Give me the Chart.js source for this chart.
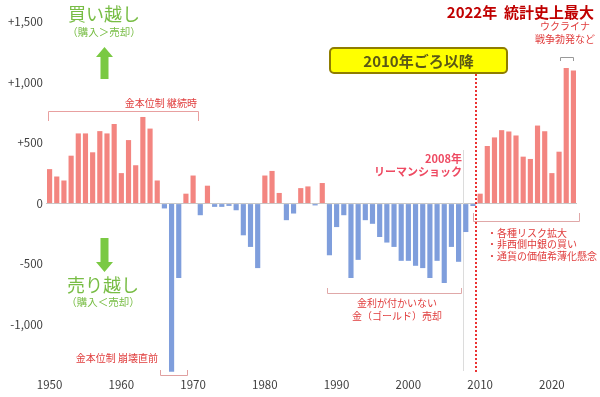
<!DOCTYPE html>
<html>
<head>
<meta charset="utf-8">
<script src="https://cdn.jsdelivr.net/npm/chart.js@4"></script>
<style>
  html, body { margin: 0; padding: 0; background: #fff; }
  #wrap { width: 600px; height: 397px; }
</style>
</head>
<body>
<div id="wrap"><canvas id="goldChart" width="600" height="397"></canvas></div>
<script>
// Data (central bank net gold purchases, tonnes)
const years = [
  1950, 1951, 1952, 1953, 1954, 1955, 1956, 1957, 1958, 1959,
  1960, 1961, 1962, 1963, 1964, 1965, 1966, 1967, 1968, 1969,
  1970, 1971, 1972, 1973, 1974, 1975, 1976, 1977, 1978, 1979,
  1980, 1981, 1982, 1983, 1984, 1985, 1986, 1987, 1988, 1989,
  1990, 1991, 1992, 1993, 1994, 1995, 1996, 1997, 1998, 1999,
  2000, 2001, 2002, 2003, 2004, 2005, 2006, 2007, 2008, 2009,
  2010, 2011, 2012, 2013, 2014, 2015, 2016, 2017, 2018, 2019,
  2020, 2021, 2022, 2023
];
const netPurchases = [
  285, 224, 191, 396, 580, 580, 424, 599, 580, 658,
  252, 525, 317, 716, 620, 191, -40, -1390, -615, 82,
  232, -96, 148, -27, -27, -19, -55, -262, -358, -533,
  232, 270, 88, -137, -82, 128, 142, -15, 170, -427,
  -194, -96, -615, -465, -137, -167, -276, -322, -358, -473,
  -473, -514, -533, -615, -473, -656, -358, -481, -235, -20,
  82, 476, 547, 607, 596, 563, 388, 369, 645, 598,
  252, 429, 1120, 1100
];
const xLabelYears = [1950, 1960, 1970, 1980, 1990, 2000, 2010, 2020];
const yTicks = [-1000, -500, 0, 500, 1000, 1500];
const yMin = -1400;
const yMax = 1600;

const POS = "#f38580";
const NEG = "#7f9edc";
const JP = '"Noto Sans CJK JP", "Noto Sans", sans-serif';
const RED = "#e03c3c";
const GREEN = "#78bd45";

// small drawing helpers
function txt(ctx, s, x, y, font, color, align) {
  ctx.font = font;
  ctx.fillStyle = color;
  ctx.textAlign = align || "center";
  ctx.textBaseline = "middle";
  ctx.fillText(s, x, y);
}

function bracket(ctx, x1, x2, yLine, yTip, color) {
  ctx.beginPath();
  ctx.moveTo(x1, yTip);
  ctx.lineTo(x1, yLine);
  ctx.lineTo(x2, yLine);
  ctx.lineTo(x2, yTip);
  ctx.strokeStyle = color;
  ctx.lineWidth = 1;
  ctx.stroke();
}

function arrow(ctx, cx, yTail, yTip, color) {
  const dir = yTip < yTail ? 1 : -1;
  const head = 10;
  const yBase = yTip + dir * head;
  ctx.beginPath();
  ctx.moveTo(cx, yTip);
  ctx.lineTo(cx + 8.5, yBase);
  ctx.lineTo(cx + 4, yBase);
  ctx.lineTo(cx + 4, yTail);
  ctx.lineTo(cx - 4, yTail);
  ctx.lineTo(cx - 4, yBase);
  ctx.lineTo(cx - 8.5, yBase);
  ctx.closePath();
  ctx.fillStyle = color;
  ctx.fill();
}

// Annotations
const notes = {
  id: "notes",
  beforeDatasetsDraw(chart) {
    const ctx = chart.ctx;
    ctx.save();
    ctx.beginPath();
    ctx.moveTo(463.5, 150);
    ctx.lineTo(463.5, 371);
    ctx.strokeStyle = "#dcdcdc";
    ctx.lineWidth = 1;
    ctx.stroke();
    ctx.restore();
  },
  afterDatasetsDraw(chart) {
    const ctx = chart.ctx;
    const area = chart.chartArea;
    ctx.save();

    // red dotted line around 2010
    ctx.beginPath();
    ctx.setLineDash([2, 2]);
    ctx.moveTo(476, 74);
    ctx.lineTo(476, area.bottom);
    ctx.strokeStyle = "#e60000";
    ctx.lineWidth = 1.6;
    ctx.stroke();
    ctx.setLineDash([]);

    // buy / sell labels
    txt(ctx, "買い越し", 104, 14.5, "18px " + JP, GREEN);
    txt(ctx, "（購入＞売却）", 104, 32, "10.5px " + JP, GREEN);
    arrow(ctx, 104.5, 79, 47, "#7ac943");
    arrow(ctx, 104.5, 238, 272, "#7ac943");
    txt(ctx, "売り越し", 103, 285, "18px " + JP, GREEN);
    txt(ctx, "（購入＜売却）", 103, 302.5, "10.5px " + JP, GREEN);

    // gold standard notes
    txt(ctx, "金本位制 継続時", 197, 103.5, "10px " + JP, RED, "right");
    bracket(ctx, 48.5, 198.5, 111.5, 121, "#e8a0a0");
    txt(ctx, "金本位制 崩壊直前", 158, 358, "10px " + JP, RED, "right");
    bracket(ctx, 160.5, 187.5, 375.5, 370, "#e0a0a0");

    // 1990s sales
    bracket(ctx, 327.5, 461.5, 293.5, 288, "#e0a8a8");
    txt(ctx, "金利が付かいない", 397, 303.5, "10px " + JP, RED);
    txt(ctx, "金（ゴールド）売却", 397, 316, "10px " + JP, RED);

    // Lehman
    txt(ctx, "2008年", 462, 159, "bold 11px " + JP, "#ee4a62", "right");
    txt(ctx, "リーマンショック", 462, 172, "bold 11px " + JP, "#ee4a62", "right");

    // after 2010
    bracket(ctx, 473.5, 579.5, 221.5, 213, "#e0a8a8");
    txt(ctx, "・各種リスク拡大", 487, 233, "10px " + JP, RED, "left");
    txt(ctx, "・非西側中銀の買い", 487, 244.5, "10px " + JP, RED, "left");
    txt(ctx, "・通貨の価値希薄化懸念", 487, 256, "10px " + JP, RED, "left");

    // yellow box
    ctx.beginPath();
    ctx.roundRect(330, 48, 177, 25, 4);
    ctx.fillStyle = "#ffff00";
    ctx.fill();
    ctx.strokeStyle = "#8f7d00";
    ctx.lineWidth = 2;
    ctx.stroke();
    txt(ctx, "2010年ごろ以降", 418.5, 61, "bold 15px " + JP, "#5a5816");

    // 2022 record
    txt(ctx, "2022年  統計史上最大", 594, 12.5, "bold 15px " + JP, "#c00000", "right");
    txt(ctx, "ウクライナ", 565, 26, "10px " + JP, RED);
    txt(ctx, "戦争勃発など", 565, 39, "10px " + JP, RED);
    bracket(ctx, 560.5, 573.5, 57.5, 61, "#999999");

    ctx.restore();
  }
};

// Chart
const ctxBar = document.getElementById("goldChart").getContext("2d");
let goldChart = new Chart(ctxBar, {
  type: "bar",
  data: {
    labels: years,
    datasets: [{
      data: netPurchases,
      backgroundColor: netPurchases.map(v => v >= 0 ? POS : NEG),
      barPercentage: 0.9,
      categoryPercentage: 0.8
    }]
  },
  options: {
    responsive: false,
    animation: false,
    layout: { padding: { top: 10, right: 23, left: 0, bottom: 0 } },
    plugins: { legend: { display: false }, tooltip: { enabled: false } },
    scales: {
      x: {
        grid: { display: false, drawTicks: false },
        border: { display: false },
        ticks: {
          autoSkip: false,
          maxRotation: 0,
          padding: 5,
          color: "#404040",
          font: { family: JP, size: 11.5 },
          callback: (v, i) => xLabelYears.includes(years[i]) ? String(years[i]) : ""
        },
        afterFit(s) { s.height = 24; }
      },
      y: {
        min: yMin,
        max: yMax,
        afterBuildTicks(s) { s.ticks = yTicks.map(v => ({ value: v })); },
        grid: {
          drawTicks: false,
          color: c => (c.tick && c.tick.value === 0) ? "#c8c8c8" : "rgba(0,0,0,0)"
        },
        border: { display: false },
        ticks: {
          padding: 3,
          color: "#404040",
          font: { family: JP, size: 11.5 },
          callback: v => v > 0 ? "+" + v.toLocaleString("en-US") : v.toLocaleString("en-US")
        },
        afterFit(s) { s.width = 46; }
      }
    }
  },
  plugins: [notes]
});
</script>
</body>
</html>
